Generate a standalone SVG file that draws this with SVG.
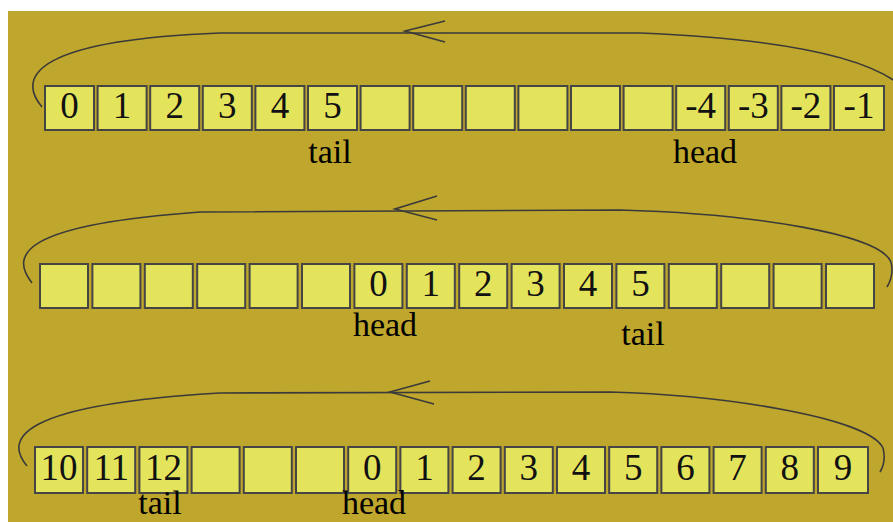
<svg xmlns="http://www.w3.org/2000/svg" width="893" height="522" viewBox="0 0 893 522">
<style>
.bx{fill:#E4E45C;stroke:#454545;stroke-width:2}
.d{font-family:"Liberation Serif",serif;font-size:37px;fill:#111;text-anchor:middle}
.lb{font-family:"Liberation Serif",serif;font-size:34px;fill:#000;text-anchor:middle}
.ln{fill:none;stroke:#3a3a3a;stroke-width:1.6}
</style>
<rect x="0" y="0" width="893" height="522" fill="#fff"/>
<rect x="8" y="11" width="885" height="511" fill="#BFA62C"/>
<g id="connectors">
<path class="ln" d="M42,107 C15,75 40,40 220,33 L640,33 C760,38 860,52 900,85"/>
<path class="ln" d="M445,21 L405,31 L445,42"/>
<path class="ln" d="M32,283 C10,255 20,225 200,212 L620,210 C760,214 880,235 891,262 C894,274 890,282 887,287"/>
<path class="ln" d="M437,196 L395,209 L437,220"/>
<path class="ln" d="M27,466 C5,440 15,405 220,393 L610,392 C740,396 870,420 883,448 C886,460 883,467 880,472"/>
<path class="ln" d="M430,381 L390,392 L434,404"/>
</g>
<g id="row1">
<rect class="bx" x="45" y="86" width="49" height="44"/>
<rect class="bx" x="97.6" y="86" width="49" height="44"/>
<rect class="bx" x="150.2" y="86" width="49" height="44"/>
<rect class="bx" x="202.8" y="86" width="49" height="44"/>
<rect class="bx" x="255.4" y="86" width="49" height="44"/>
<rect class="bx" x="308" y="86" width="49" height="44"/>
<rect class="bx" x="360.6" y="86" width="49" height="44"/>
<rect class="bx" x="413.2" y="86" width="49" height="44"/>
<rect class="bx" x="465.8" y="86" width="49" height="44"/>
<rect class="bx" x="518.4" y="86" width="49" height="44"/>
<rect class="bx" x="571" y="86" width="49" height="44"/>
<rect class="bx" x="623.6" y="86" width="49" height="44"/>
<rect class="bx" x="676.2" y="86" width="49" height="44"/>
<rect class="bx" x="728.8" y="86" width="49" height="44"/>
<rect class="bx" x="781.4" y="86" width="49" height="44"/>
<rect class="bx" x="834" y="86" width="50" height="44"/>
<text class="d" x="69.5" y="118">0</text>
<text class="d" x="122.1" y="118">1</text>
<text class="d" x="174.7" y="118">2</text>
<text class="d" x="227.3" y="118">3</text>
<text class="d" x="279.9" y="118">4</text>
<text class="d" x="332.5" y="118">5</text>
<text class="d" x="700.7" y="118">-4</text>
<text class="d" x="753.3" y="118">-3</text>
<text class="d" x="805.9" y="118">-2</text>
<text class="d" x="859" y="118">-1</text>
<text class="lb" x="330" y="163">tail</text>
<text class="lb" x="705" y="163">head</text>
</g>
<g id="row2">
<rect class="bx" x="40" y="264" width="48" height="44"/>
<rect class="bx" x="92.4" y="264" width="48" height="44"/>
<rect class="bx" x="144.8" y="264" width="48" height="44"/>
<rect class="bx" x="197.2" y="264" width="48" height="44"/>
<rect class="bx" x="249.6" y="264" width="48" height="44"/>
<rect class="bx" x="302" y="264" width="48" height="44"/>
<rect class="bx" x="354.4" y="264" width="48" height="44"/>
<rect class="bx" x="406.8" y="264" width="48" height="44"/>
<rect class="bx" x="459.2" y="264" width="48" height="44"/>
<rect class="bx" x="511.6" y="264" width="48" height="44"/>
<rect class="bx" x="564" y="264" width="48" height="44"/>
<rect class="bx" x="616.4" y="264" width="48" height="44"/>
<rect class="bx" x="668.8" y="264" width="48" height="44"/>
<rect class="bx" x="721.2" y="264" width="48" height="44"/>
<rect class="bx" x="773.6" y="264" width="48" height="44"/>
<rect class="bx" x="826" y="264" width="48" height="44"/>
<text class="d" x="378.4" y="296">0</text>
<text class="d" x="430.8" y="296">1</text>
<text class="d" x="483.2" y="296">2</text>
<text class="d" x="535.6" y="296">3</text>
<text class="d" x="588" y="296">4</text>
<text class="d" x="640.4" y="296">5</text>
<text class="lb" x="385" y="336">head</text>
<text class="lb" x="643" y="345">tail</text>
</g>
<g id="row3">
<rect class="bx" x="35" y="447" width="48" height="46"/>
<rect class="bx" x="87.2" y="447" width="48" height="46"/>
<rect class="bx" x="139.4" y="447" width="48" height="46"/>
<rect class="bx" x="191.6" y="447" width="48" height="46"/>
<rect class="bx" x="243.8" y="447" width="48" height="46"/>
<rect class="bx" x="296" y="447" width="48" height="46"/>
<rect class="bx" x="348.2" y="447" width="48" height="46"/>
<rect class="bx" x="400.4" y="447" width="48" height="46"/>
<rect class="bx" x="452.6" y="447" width="48" height="46"/>
<rect class="bx" x="504.8" y="447" width="48" height="46"/>
<rect class="bx" x="557" y="447" width="48" height="46"/>
<rect class="bx" x="609.2" y="447" width="48" height="46"/>
<rect class="bx" x="661.4" y="447" width="48" height="46"/>
<rect class="bx" x="713.6" y="447" width="48" height="46"/>
<rect class="bx" x="765.8" y="447" width="48" height="46"/>
<rect class="bx" x="818" y="447" width="50" height="46"/>
<text class="d" x="59" y="480">10</text>
<text class="d" x="111.2" y="480">11</text>
<text class="d" x="163.4" y="480">12</text>
<text class="d" x="372.2" y="480">0</text>
<text class="d" x="424.4" y="480">1</text>
<text class="d" x="476.6" y="480">2</text>
<text class="d" x="528.8" y="480">3</text>
<text class="d" x="581" y="480">4</text>
<text class="d" x="633.2" y="480">5</text>
<text class="d" x="685.4" y="480">6</text>
<text class="d" x="737.6" y="480">7</text>
<text class="d" x="789.8" y="480">8</text>
<text class="d" x="843" y="480">9</text>
<text class="lb" x="160" y="514">tail</text>
<text class="lb" x="374" y="514">head</text>
</g>
</svg>
